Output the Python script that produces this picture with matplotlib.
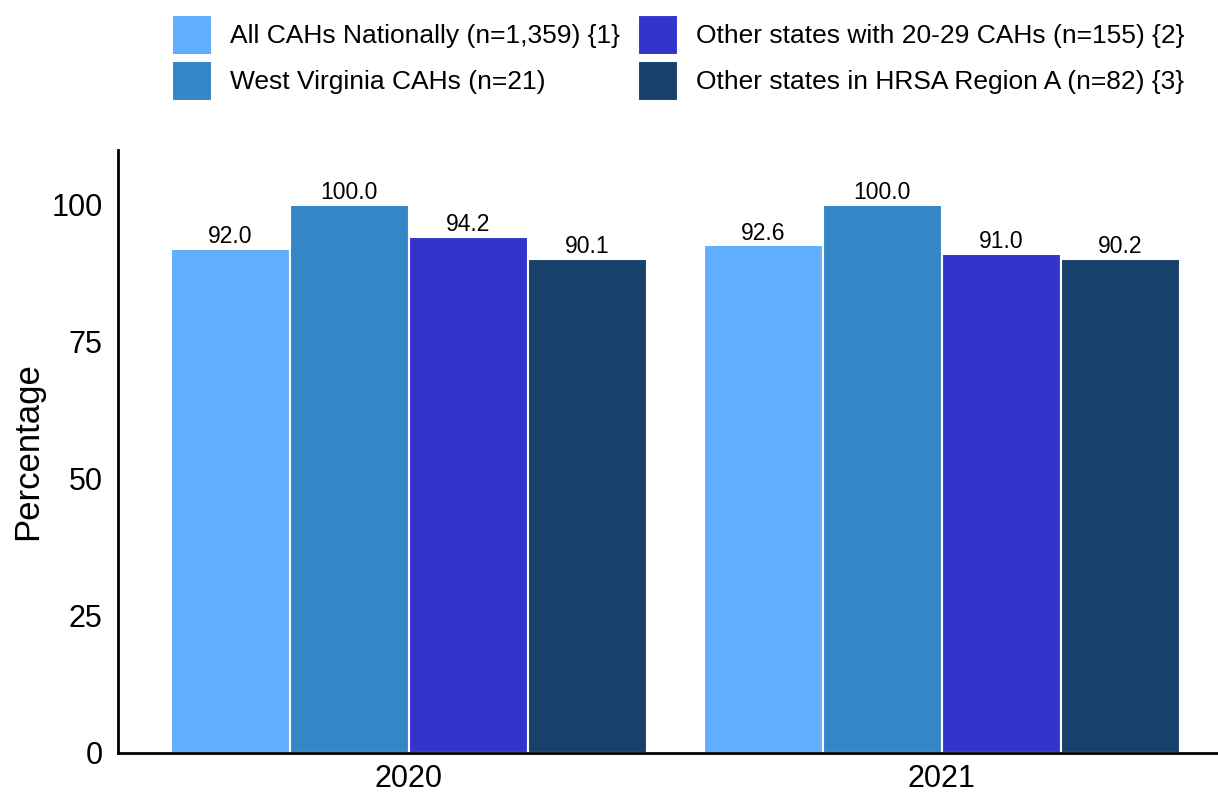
import matplotlib
matplotlib.use('Agg')
import matplotlib.pyplot as plt
import numpy as np

plt.rcParams['font.family'] = ['Liberation Sans', 'DejaVu Sans']

# data
years = ['2020', '2021']
series_labels = ['All CAHs Nationally (n=1,359) {1}',
                 'West Virginia CAHs (n=21)',
                 'Other states with 20-29 CAHs (n=155) {2}',
                 'Other states in HRSA Region A (n=82) {3}']
national = [92.0, 92.6]
west_virginia = [100.0, 100.0]
similar_states = [94.2, 91.0]
region_a = [90.1, 90.2]

colors = ['#60AEFD', '#3586C6', '#3434CC', '#17416B']

fig = plt.figure(figsize=(12.18, 7.92), dpi=100)
ax = fig.add_axes([118/1218, 39/792, 1100/1218, 603/792])

x = np.arange(len(years))
width = 0.2235
all_series = [national, west_virginia, similar_states, region_a]
for i, vals in enumerate(all_series):
    pos = x + (i - 1.5) * width
    bars = ax.bar(pos, vals, width, color=colors[i], edgecolor='white',
                  linewidth=1.5, label=series_labels[i])
    for b, v in zip(bars, vals):
        ax.annotate('%.1f' % v, (b.get_x() + b.get_width()/2, v),
                    xytext=(0, 0.5), textcoords='offset points',
                    ha='center', va='bottom', fontsize=16.5)

ax.set_xlim(-0.546, 1.518)
ax.set_ylim(0, 110)
ax.set_xticks(x)
ax.set_xticklabels(years)
ax.set_yticks([0, 25, 50, 75, 100])
ax.tick_params(axis='both', length=0, labelsize=22)
ax.tick_params(axis='y', pad=11)
ax.tick_params(axis='x', pad=8)
ax.set_ylabel('Percentage', fontsize=25, labelpad=5)

for s in ['top', 'right']:
    ax.spines[s].set_visible(False)
for s in ['left', 'bottom']:
    ax.spines[s].set_linewidth(2)

fig.legend(loc='upper left', bbox_to_anchor=(172/1218, 1 - 15/792),
           ncol=2, frameon=False, fontsize=19, borderpad=0, borderaxespad=0,
           handlelength=1.52, handleheight=1.95, labelspacing=0.23,
           handletextpad=0.68, columnspacing=0.68)

fig.savefig('out.png', dpi=100)
